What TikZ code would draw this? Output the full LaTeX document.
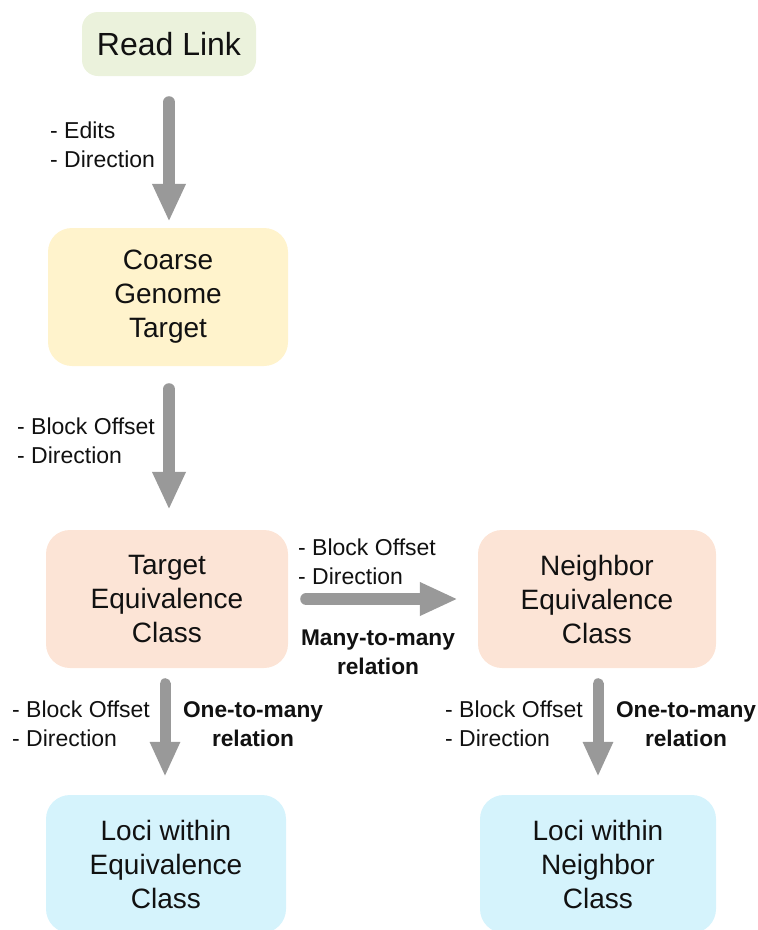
\documentclass[tikz,border=0pt]{standalone}
\usepackage{fontspec}
\setmainfont{Liberation Sans}
\usetikzlibrary{arrows.meta}
\definecolor{linkfill}{HTML}{EBF2DC}
\definecolor{coarsefill}{HTML}{FFF3CC}
\definecolor{classfill}{HTML}{FCE4D6}
\definecolor{locifill}{HTML}{D5F3FC}
\definecolor{arrowgray}{HTML}{999999}
\definecolor{ink}{HTML}{111111}
\begin{document}
\begin{tikzpicture}[x=1pt,y=-1pt,
  box/.style={rounded corners=24pt, minimum width=240pt, minimum height=138pt,
    align=center, inner sep=0pt, text=ink, font=\fontsize{28}{34}\selectfont},
  note/.style={align=left, anchor=west, inner sep=0pt, text=ink,
    font=\fontsize{23}{29}\selectfont},
  rel/.style={align=center, inner sep=0pt, text=ink,
    font=\fontsize{22.7}{29}\selectfont\bfseries},
  flow/.style={draw=arrowgray, line width=12pt, line cap=round,
    -{Triangle[width=31pt,length=38pt]}},
  flowsmall/.style={draw=arrowgray, line width=11pt, line cap=round,
    -{Triangle[width=28pt,length=35pt]}},
]
\useasboundingbox (0,0) rectangle (758,930);

% boxes
\node[box, fill=linkfill, rounded corners=16pt, minimum width=174pt, minimum height=64pt,
      font=\fontsize{32}{36}\selectfont] (read) at (169,44) {Read Link};
\node[box, fill=coarsefill] (coarse) at (168,297) {Coarse\\Genome\\Target};
\node[box, fill=classfill, minimum width=242pt] (target) at (167,599) {Target\\Equivalence\\Class};
\node[box, fill=classfill, minimum width=238pt] (neigh) at (597,599) {Neighbor\\Equivalence\\Class};
\node[box, fill=locifill] (lociA) at (166,864) {Loci within\\Equivalence\\Class};
\node[box, fill=locifill, minimum width=236pt] (lociB) at (598,864) {Loci within\\Neighbor\\Class};

% connectors
\draw[flow, shorten <=26pt, shorten >=6pt] (read.south) -- (read.south |- coarse.north);
\draw[flow, shorten <=23pt, shorten >=20pt] ([xshift=1pt]coarse.south) -- ([xshift=1pt]coarse.south |- target.north);
\draw[flow, shorten <=18pt, shorten >=20pt] (target.east) -- (target.east -| neigh.west);
\draw[flowsmall, shorten <=15.5pt, shorten >=18pt] ([xshift=-2pt]target.south) -- ([xshift=-2pt]target.south |- lociA.north);
\draw[flowsmall, shorten <=15.5pt, shorten >=18pt] ([xshift=1pt]neigh.south) -- ([xshift=1pt]neigh.south |- lociB.north);

% edge annotations
\node[note] (n1) at (50,145) {- Edits\\- Direction};
\node[note] (n2) at (17,441) {- Block Offset\\- Direction};
\node[note] (n3) at (298,562) {- Block Offset\\- Direction};
\node[rel] (r3) at (378,652) {Many-to-many\\relation};
\node[note] (n4) at (12,724) {- Block Offset\\- Direction};
\node[rel] (r4) at (253,724) {One-to-many\\relation};
\node[note] (n5) at (445,724) {- Block Offset\\- Direction};
\node[rel] (r5) at (686,724) {One-to-many\\relation};
\end{tikzpicture}
\end{document}
